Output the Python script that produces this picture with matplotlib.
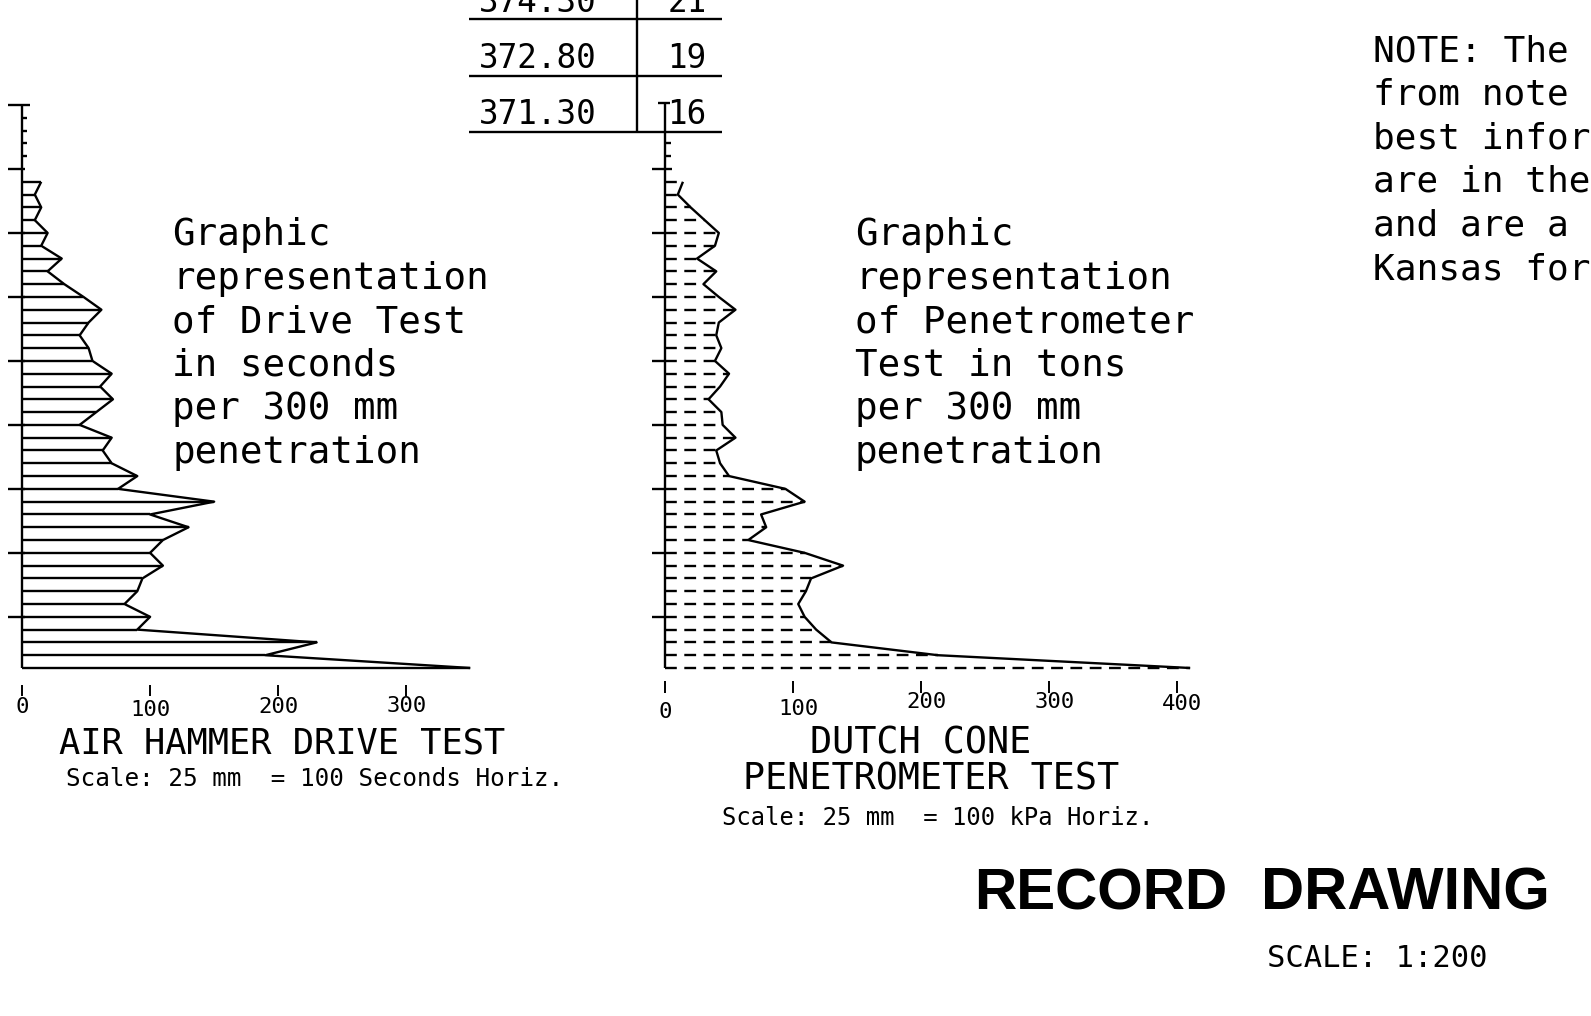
import numpy as np
import matplotlib.pyplot as plt

plt.rcParams['lines.scale_dashes'] = False
plt.rcParams['lines.solid_capstyle'] = 'butt'

W, H = 1591, 1016
MONO = 'DejaVu Sans Mono'

# readings every 300 mm, depth in m below the top tick of each log
depth = np.round(np.arange(1.8, 13.21, 0.3), 1)

# air hammer drive test, seconds per 300 mm
drive_sec = [15, 10, 15, 10, 20, 15, 31, 20, 33, 48, 62, 52, 45, 52, 55,
             70, 61, 71, 58, 45, 70, 63, 70, 90, 75, 150, 100, 130, 110, 100,
             110, 94, 90, 80, 100, 90, 230, 190, 350]

# dutch cone penetrometer test, kPa
cone_kpa = [14, 10, 20, 31, 42, 39, 25, 40, 30, 42, 55, 42, 40, 44, 39,
            50, 43, 34, 44, 45, 55, 40, 43, 50, 94, 109, 75, 79, 65, 109,
            139, 114, 110, 104, 109, 118, 130, 213, 410]

drive_ticks = [0, 100, 200, 300]
cone_ticks = [0, 100, 200, 300, 400]
minor_depth = [0.3, 0.6, 0.9, 1.2]
major_depth = [1.5, 3.0, 4.5, 6.0, 7.5, 9.0, 10.5, 12.0]

# little elevation table at the top
table_elev = ['374.30', '372.80', '371.30']
table_vals = ['21', '19', '16']

# page layout (pixels)
Y_TOP, Y_BASE, D_BASE = 105, 668, 13.2
PX = 1.281                      # px per unit horizontally
PY = (Y_BASE - Y_TOP) / D_BASE  # px per metre


def dep(y_px):
    return (y_px - Y_TOP) / PY


fig = plt.figure(figsize=(W / 100, H / 100), dpi=100)
bg = fig.add_axes([0, 0, 1, 1])
bg.set_xlim(0, W)
bg.set_ylim(H, 0)
bg.axis('off')


def panel(x0, xmax):
    ax = fig.add_axes([x0 / W, (H - Y_BASE) / H, xmax * PX / W, (Y_BASE - Y_TOP) / H])
    ax.set_xlim(0, xmax)
    ax.set_ylim(D_BASE, 0)
    ax.axis('off')
    return ax


kw = dict(colors='k', lw=1.7, clip_on=False)

# ---- left: air hammer drive test
axl = panel(22, 360)
u = 1 / PX
axl.vlines(0, 0, D_BASE, **kw)
axl.hlines(0, -14 * u, 8 * u, **kw)
axl.hlines(minor_depth, 0, 5 * u, **kw)
axl.hlines(major_depth, -14 * u, 3 * u, **kw)
axl.hlines(depth, 0, drive_sec, **kw)
axl.plot(drive_sec, depth, 'k', lw=1.7, clip_on=False)
axl.vlines(drive_ticks, dep(685), dep(696), colors='k', lw=1.4, clip_on=False)
for t, yb in zip(drive_ticks, [713, 716, 713, 712]):
    axl.text(t, dep(yb), str(t), ha='center', va='baseline',
             family=MONO, fontsize=16, clip_on=False)

# ---- right: dutch cone penetrometer
axr = panel(665, 420)
axr.vlines(0, dep(103), D_BASE, **kw)
axr.hlines(dep(103), -7 * u, 5 * u, **kw)
axr.hlines([0.9, 1.2], 0, 6 * u, **kw)
axr.hlines(1.5, -13 * u, 7 * u, **kw)
axr.hlines(major_depth[1:], -13 * u, 0, **kw)
axr.hlines(depth, 0, cone_kpa, linestyles=[(0, (8.5, 5.4))], **kw)
axr.plot(cone_kpa, depth, 'k', lw=1.7, clip_on=False)
axr.vlines(cone_ticks, dep(681), dep(693), colors='k', lw=1.4, clip_on=False)
for t, yb in zip(cone_ticks, [718, 715, 708, 708, 710]):
    axr.text(t + 5 * u * (t > 0), dep(yb), str(t), ha='center', va='baseline',
             family=MONO, fontsize=16, clip_on=False)

# ---- table (cut by the top edge, as on the sheet)
for y in [19, 76, 132]:
    bg.plot([469, 722], [y, y], 'k', lw=1.7)
bg.plot([637, 637], [0, 132], 'k', lw=1.7)
for i, (e, v) in enumerate(zip(table_elev, table_vals)):
    yb = 11.5 + 56.5 * i
    bg.text(479, yb, e, va='baseline', family=MONO, fontsize=23.5)
    bg.text(687, yb, v, ha='center', va='baseline', family=MONO, fontsize=23.5)

# ---- captions
left_note = ['Graphic', 'representation', 'of Drive Test', 'in seconds',
             'per 300 mm', 'penetration']
right_note = ['Graphic', 'representation', 'of Penetrometer', 'Test in tons',
              'per 300 mm', 'penetration']
for i, (a, b) in enumerate(zip(left_note, right_note)):
    yb = 245 + 43.6 * i
    bg.text(172, yb, a, va='baseline', family=MONO, fontsize=27)
    bg.text(855, yb, b, va='baseline', family=MONO, fontsize=27)

bg.text(59, 753, 'AIR HAMMER DRIVE TEST', va='baseline', family=MONO, fontsize=25.5)
bg.text(66, 786, 'Scale: 25 mm  = 100 Seconds Horiz.', va='baseline', family=MONO, fontsize=17.5)
bg.text(921, 754, 'DUTCH CONE', ha='center', va='baseline', family=MONO, fontsize=26.5)
bg.text(931, 789, 'PENETROMETER TEST', ha='center', va='baseline', family=MONO, fontsize=26.5)
bg.text(722, 825, 'Scale: 25 mm  = 100 kPa Horiz.', va='baseline', family=MONO, fontsize=17.2)

note = ['NOTE: The', 'from note', 'best infor', 'are in the', 'and are a', 'Kansas for']
for i, s in enumerate(note):
    bg.text(1373, 61 + 43.6 * i, s, va='baseline', family=MONO, fontsize=26)

bg.text(974, 910, 'RECORD', va='baseline', family='Liberation Sans',
        fontweight='bold', fontsize=42)
bg.text(1261, 910, 'DRAWING', va='baseline', family='Liberation Sans',
        fontweight='bold', fontsize=43)
bg.text(1267, 967, 'SCALE: 1:200', va='baseline', family=MONO, fontsize=22)

fig.savefig('out.png', dpi=100, facecolor='white')
